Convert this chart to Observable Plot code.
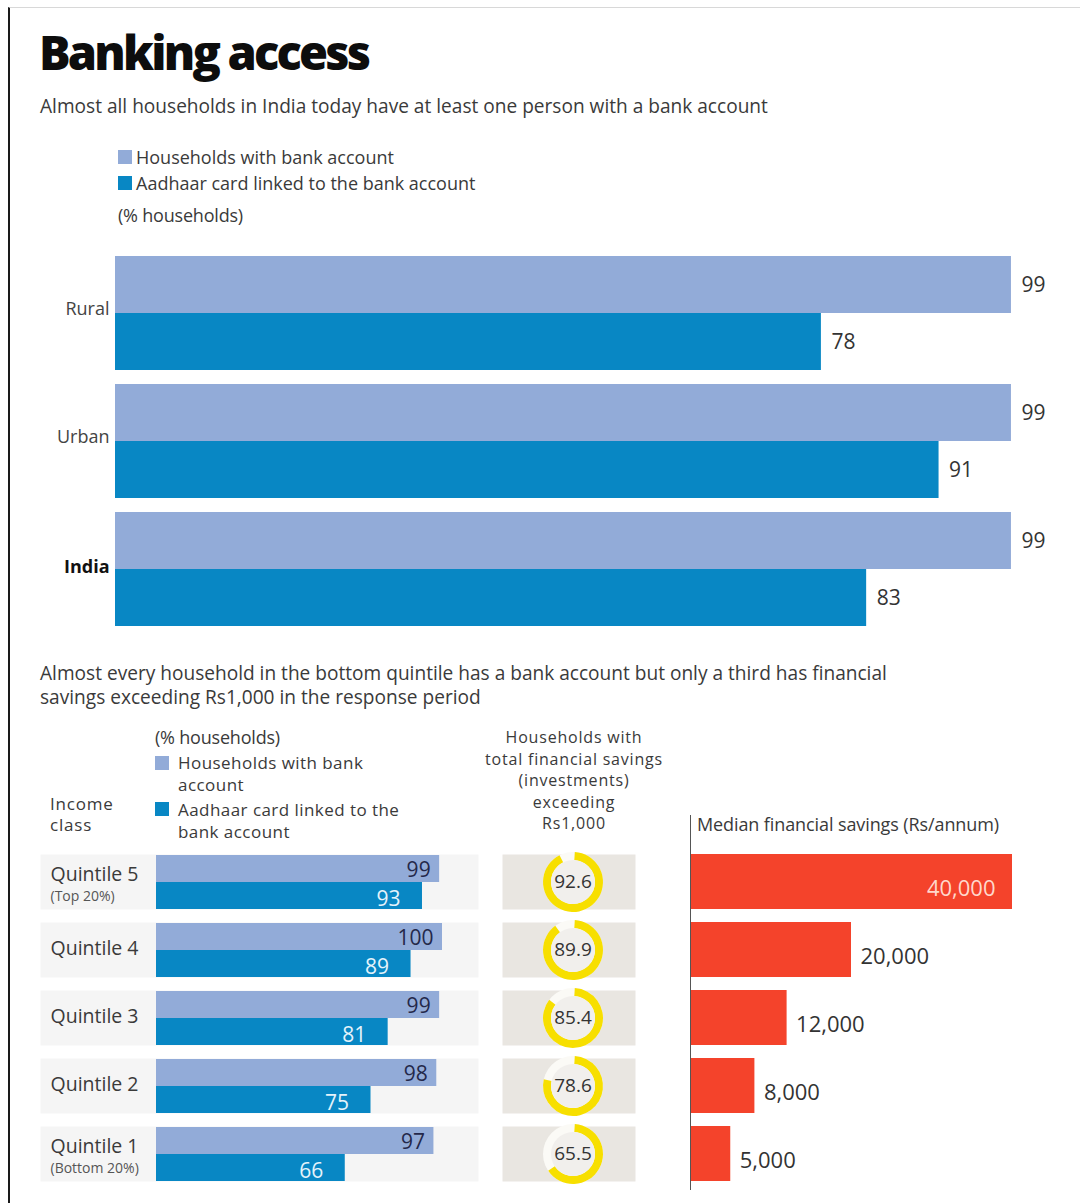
<!DOCTYPE html>
<html>
<head>
<meta charset="utf-8">
<script src="https://cdn.jsdelivr.net/npm/d3@7"></script>
<script src="https://cdn.jsdelivr.net/npm/@observablehq/plot@0.6"></script>
<style>
  html, body { margin: 0; padding: 0; background: #fff; }
  body { width: 1080px; height: 1203px; position: relative; overflow: hidden; font-family: "Open Sans", "Noto Sans", sans-serif; color: #333; }
  .abs { position: absolute; white-space: nowrap; line-height: 1; }
  .frame { position: absolute; left: 8px; top: 7px; width: 1072px; height: 1196px; border-left: 2px solid #1a1a1a; border-top: 1px solid #d8d8d8; }
  .title { left: 39px; top: 29px; font-size: 47px; font-weight: 800; color: #0d0d0d; letter-spacing: -2.8px; }
  .sub { font-size: 19.1px; color: #3a3a3a; letter-spacing: 0; }
  .leg { font-size: 18px; color: #3a3a3a; letter-spacing: 0; }
  .sw { position: absolute; width: 14px; height: 14px; }
  .plot { position: absolute; }
  .plot svg { display: block; }
  .center { text-align: center; transform: translateX(-50%); }
</style>
</head>
<body>
<div class="frame"></div>
<div class="abs title">Banking access</div>
<div class="abs sub" style="left:40px; top:97px;">Almost all households in India today have at least one person with a bank account</div>

<div id="legendTop"></div>

<div class="abs sub" style="left:40px; top:661px; line-height:24px;">Almost every household in the bottom quintile has a bank account but only a third has financial<br>savings exceeding Rs1,000 in the response period</div>

<div id="legendBottom"></div>

<div class="abs leg" style="left:50px; top:793px; line-height:21px; font-size:17px; letter-spacing:0.8px;">Income<br>class</div>
<div class="abs leg center" style="left:574px; top:727px; line-height:21.5px; font-size:16px; letter-spacing:0.8px;">Households with<br>total financial savings<br>(investments)<br>exceeding<br>Rs1,000</div>
<div class="abs leg" style="left:697px; top:815px; letter-spacing:-0.1px;">Median financial savings (Rs/annum)</div>

<div id="topChart" class="plot" style="left:0; top:244px;"></div>
<div id="qBars" class="plot" style="left:0; top:842px;"></div>
<div id="qDonuts" class="plot" style="left:502px; top:842px;"></div>
<div id="qMedian" class="plot" style="left:680px; top:815px;"></div>

<script>
// ---------- DATA ----------
const seriesNames = ["Households with bank account", "Aadhaar card linked to the bank account"];
const seriesColors = ["#92abd8", "#0887c4"];

const regions = ["Rural", "Urban", "India"];
const regionWithAccount = [99, 99, 99];
const regionAadhaarLinked = [78, 91, 83];

const quintiles = ["Quintile 5", "Quintile 4", "Quintile 3", "Quintile 2", "Quintile 1"];
const quintileNotes = ["(Top 20%)", "", "", "", "(Bottom 20%)"];
const quintileWithAccount = [99, 100, 99, 98, 97];
const quintileAadhaarLinked = [93, 89, 81, 75, 66];
const savingsAbove1000 = [92.6, 89.9, 85.4, 78.6, 65.5];
const medianSavings = [40000, 20000, 12000, 8000, 5000];

// ---------- LEGENDS (HTML) ----------
function legend(containerId, items) {
  const c = document.getElementById(containerId);
  items.forEach(it => {
    const sw = document.createElement("div");
    sw.className = "sw";
    sw.style.left = it.x + "px"; sw.style.top = it.sy + "px"; sw.style.background = it.color;
    c.appendChild(sw);
    const t = document.createElement("div");
    t.className = "abs leg";
    t.style.left = (it.x + it.gap) + "px"; t.style.top = it.ty + "px"; t.style.lineHeight = "22px";
    if (it.fontSize) t.style.fontSize = it.fontSize;
    if (it.ls) t.style.letterSpacing = it.ls;
    t.innerHTML = it.label;
    c.appendChild(t);
  });
}
legend("legendTop", [
  {x: 118, sy: 150, ty: 146, gap: 18, color: seriesColors[0], label: seriesNames[0]},
  {x: 118, sy: 176, ty: 172, gap: 18, color: seriesColors[1], label: seriesNames[1]}
]);
{
  const t = document.createElement("div");
  t.className = "abs leg"; t.style.left = "118px"; t.style.top = "206px"; t.style.letterSpacing = "-0.2px"; t.textContent = "(% households)";
  document.getElementById("legendTop").appendChild(t);
  const t2 = document.createElement("div");
  t2.className = "abs leg"; t2.style.left = "155px"; t2.style.top = "728px"; t2.style.letterSpacing = "-0.2px"; t2.textContent = "(% households)";
  document.getElementById("legendBottom").appendChild(t2);
}
legend("legendBottom", [
  {x: 155, sy: 756, ty: 752, gap: 23, color: seriesColors[0], label: "Households with bank<br>account", fontSize: "17px", ls: "0.45px"},
  {x: 155, sy: 802, ty: 799, gap: 23, color: seriesColors[1], label: "Aadhaar card linked to the<br>bank account", fontSize: "17px", ls: "0.45px"}
]);

const baseStyle = {fontFamily: "Open Sans, Noto Sans, sans-serif", background: "transparent", overflow: "visible", color: "#333"};

// ---------- TOP CHART ----------
const topRows = regions.flatMap((r, i) => [
  {region: r, series: seriesNames[0], value: regionWithAccount[i]},
  {region: r, series: seriesNames[1], value: regionAadhaarLinked[i]}
]);

const topChart = Plot.plot({
  width: 1080, height: 393,
  marginTop: 10, marginBottom: 10, marginLeft: 115, marginRight: 60,
  style: {...baseStyle, fontSize: "18px"},
  x: {domain: [0, 100], axis: null},
  y: {domain: seriesNames, paddingInner: 0, paddingOuter: 0, axis: null},
  fy: {domain: regions, paddingInner: 0.1, paddingOuter: 0, axis: null},
  color: {domain: seriesNames, range: seriesColors},
  marks: [
    Plot.barX(topRows, {x: "value", y: "series", fy: "region", fill: "series"}),
    Plot.text(topRows, {x: "value", y: "series", fy: "region", text: d => String(d.value), textAnchor: "start", dx: 10, fontSize: 21, fill: "#333"}),
    Plot.text(regions.filter(r => r !== "India"), {fy: d => d, text: d => d, frameAnchor: "left", textAnchor: "end", dx: -6, dy: -4, fontSize: 18, fill: "#444"}),
    Plot.text(regions.filter(r => r === "India"), {fy: d => d, text: d => d, frameAnchor: "left", textAnchor: "end", dx: -6, dy: -2, fontSize: 18, fontWeight: "bold", fill: "#111"})
  ]
});
document.getElementById("topChart").appendChild(topChart);

// ---------- QUINTILE BARS ----------
const qRows = quintiles.flatMap((q, i) => [
  {q, series: seriesNames[0], value: quintileWithAccount[i]},
  {q, series: seriesNames[1], value: quintileAadhaarLinked[i]}
]);
const qLabels = quintiles.map((q, i) => ({q, note: quintileNotes[i]}));
const qFacet = {domain: quintiles, paddingInner: 0.188, paddingOuter: 0, axis: null};

const qBars = Plot.plot({
  width: 480, height: 352,
  marginTop: 10, marginBottom: 10, marginLeft: 156, marginRight: 38,
  style: {...baseStyle, fontSize: "18px"},
  x: {domain: [0, 100], axis: null},
  y: {domain: seriesNames, paddingInner: 0, paddingOuter: 0, axis: null},
  fy: qFacet,
  color: {domain: seriesNames, range: seriesColors},
  marks: [
    Plot.frame({fill: "#f5f5f5", stroke: null, insetLeft: -116, insetRight: -36}),
    Plot.barX(qRows, {x: "value", y: "series", fy: "q", fill: "series"}),
    Plot.text(qRows.filter(d => d.series === seriesNames[0]), {x: "value", y: "series", fy: "q", text: d => String(d.value), textAnchor: "end", dx: -9, dy: 1, fontSize: 21, fill: "#24284a"}),
    Plot.text(qRows.filter(d => d.series === seriesNames[1]), {x: "value", y: "series", fy: "q", text: d => String(d.value), textAnchor: "end", dx: -22, dy: 3, fontSize: 21, fill: "#e4f3fb"}),
    Plot.text(qLabels.filter(d => d.note), {fy: "q", text: "q", frameAnchor: "left", textAnchor: "start", dx: -106, dy: -7, fontSize: 19.5, fill: "#3a3a3a"}),
    Plot.text(qLabels.filter(d => d.note), {fy: "q", text: "note", frameAnchor: "left", textAnchor: "start", dx: -106, dy: 15, fontSize: 14, fill: "#555"}),
    Plot.text(qLabels.filter(d => !d.note), {fy: "q", text: "q", frameAnchor: "left", textAnchor: "start", dx: -106, dy: -1, fontSize: 19.5, fill: "#3a3a3a"})
  ]
});
document.getElementById("qBars").appendChild(qBars);

// ---------- DONUTS ----------
const donutRows = quintiles.map((q, i) => ({q, value: savingsAbove1000[i]}));
const arcGen = d3.arc().innerRadius(22).outerRadius(30);
function donutRender(index, scales, values, dimensions, context, next) {
  const g = next(index, scales, values, dimensions, context);
  const circles = g.querySelectorAll("circle");
  const {marginLeft, marginRight, marginTop, marginBottom, width, height} = dimensions;
  index.forEach((i, k) => {
    const c = circles[k];
    let cx = (marginLeft + width - marginRight) / 2 + 4;
    let cy = (marginTop + height - marginBottom) / 2;
    if (c && c.hasAttribute("cx")) { cx = +c.getAttribute("cx"); cy = +c.getAttribute("cy"); }
    const p = document.createElementNS("http://www.w3.org/2000/svg", "path");
    p.setAttribute("d", arcGen({startAngle: 0.06, endAngle: 2 * Math.PI * donutRows[i].value / 100}));
    p.setAttribute("transform", `translate(${cx},${cy})`);
    p.setAttribute("fill", "#f7df00");
    g.appendChild(p);
  });
  return g;
}
const qDonuts = Plot.plot({
  width: 133, height: 352,
  marginTop: 10, marginBottom: 10, marginLeft: 0, marginRight: 0,
  style: {...baseStyle, fontSize: "16px"},
  fy: qFacet,
  marks: [
    Plot.frame({fill: "#e9e6e1", stroke: null}),
    Plot.dot(donutRows, {fy: "q", frameAnchor: "middle", dx: 4, r: 30, fill: "#fbfaf6", stroke: null, render: donutRender}),
    Plot.dot(donutRows, {fy: "q", frameAnchor: "middle", dx: 4, r: 22, fill: "#f1efec", stroke: null}),
    Plot.text(donutRows, {fy: "q", frameAnchor: "middle", dx: 4, text: d => d.value.toFixed(1), fontSize: 19, fill: "#333", letterSpacing: "-0.3px"})
  ]
});
document.getElementById("qDonuts").appendChild(qDonuts);

// ---------- MEDIAN SAVINGS ----------
const medRows = quintiles.map((q, i) => ({q, value: medianSavings[i]}));
const fmt = d3.format(",");
const qMedian = Plot.plot({
  width: 400, height: 375,
  marginTop: 37, marginBottom: 6, marginLeft: 10, marginRight: 68,
  style: {...baseStyle, fontSize: "20px"},
  x: {domain: [0, 40000], axis: null},
  y: {domain: quintiles, paddingInner: 0.188, paddingOuter: 0, axis: null},
  marks: [
    Plot.barX(medRows, {x: "value", y: "q", fill: "#f4432b"}),
    Plot.ruleX([0], {stroke: "#555", strokeWidth: 1, insetTop: -37, insetBottom: -6}),
    Plot.text(medRows.filter(d => d.value >= 30000), {x: "value", y: "q", text: d => fmt(d.value), textAnchor: "end", dx: -17, dy: 7, fontSize: 22, fill: "#ffd8cc"}),
    Plot.text(medRows.filter(d => d.value < 30000), {x: "value", y: "q", text: d => fmt(d.value), textAnchor: "start", dx: 9, dy: 7, fontSize: 22, fill: "#333"})
  ]
});
document.getElementById("qMedian").appendChild(qMedian);
</script>
</body>
</html>
